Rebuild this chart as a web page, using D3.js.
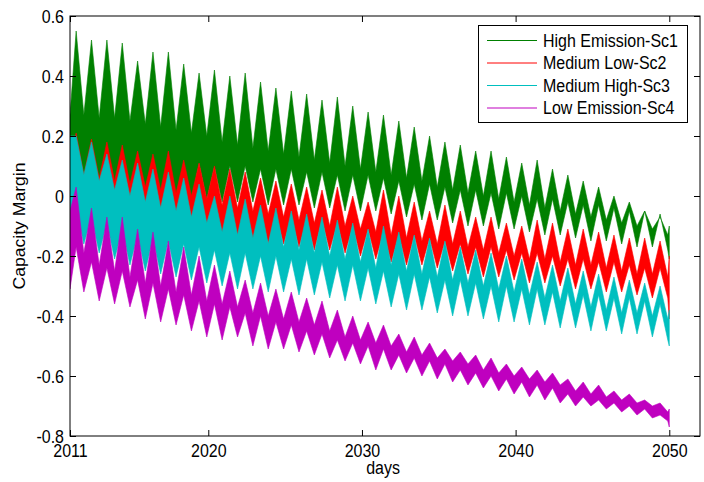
<!DOCTYPE html>
<html>
<head>
<meta charset="utf-8">
<style>
body { margin:0; background:#ffffff; }
svg text { font-family: "Liberation Sans", Arial, sans-serif; fill:#000; }
</style>
</head>
<body>
<div id="chart"></div>
<script src="https://d3js.org/d3.v7.min.js"></script>
<script>

// one seasonal cycle per year, data runs 1 Jan 2011 -> 1 Jan 2050
var years = [2011,2012,2013,2014,2015,2016,2017,2018,2019,2020,
             2021,2022,2023,2024,2025,2026,2027,2028,2029,2030,
             2031,2032,2033,2034,2035,2036,2037,2038,2039,2040,
             2041,2042,2043,2044,2045,2046,2047,2048,2049];
var peakDay = 146;    // day of year of the seasonal maximum
var troughDay = 329;  // day of year of the seasonal minimum
var startYear = 2011, endYear = 2050;

var seriesNames = ["High Emission-Sc1","Medium Low-Sc2","Medium High-Sc3","Low Emission-Sc4"];

// top / bottom of the daily band, read at each peak and each trough
var greenHiPk = [0.55,0.52,0.52,0.51,0.45,0.48,0.48,0.44,0.41,0.42, 0.40,0.41,0.38,0.36,0.35,0.34,0.32,0.33,0.30,0.28, 0.27,0.25,0.23,0.20,0.18,0.17,0.15,0.15,0.13,0.11, 0.12,0.09,0.07,0.05,0.03,0.00,-0.02,-0.05,-0.07];
var greenHiTr = [0.27,0.26,0.26,0.25,0.24,0.23,0.22,0.21,0.20,0.18, 0.17,0.16,0.15,0.14,0.13,0.12,0.11,0.10,0.09,0.08, 0.07,0.06,0.05,0.03,0.02,0.01,0.00,-0.01,-0.02,-0.03, -0.04,-0.05,-0.06,-0.07,-0.08,-0.09,-0.10,-0.11,-0.13];
var greenLoPk = [0.15,0.14,0.13,0.12,0.12,0.12,0.11,0.11,0.11,0.10, 0.10,0.10,0.09,0.09,0.09,0.08,0.08,0.07,0.07,0.07, 0.06,0.05,0.04,0.04,0.03,0.02,0.02,0.01,0.01,0.00, -0.01,-0.01,-0.02,-0.03,-0.03,-0.04,-0.05,-0.05,-0.06];
var greenLoTr = [0.03,0.02,0.01,0.00,0.00,0.00,-0.01,-0.01,-0.01,-0.02, -0.02,-0.02,-0.03,-0.03,-0.03,-0.04,-0.04,-0.05,-0.05,-0.05, -0.06,-0.07,-0.08,-0.08,-0.09,-0.10,-0.10,-0.11,-0.11,-0.12, -0.13,-0.13,-0.14,-0.15,-0.15,-0.16,-0.17,-0.17,-0.18];

var redHiPk = [0.21,0.19,0.18,0.17,0.15,0.14,0.15,0.12,0.11,0.10, 0.09,0.08,0.06,0.05,0.04,0.03,0.02,0.03,0.00,-0.02, 0.02,0.00,-0.02,-0.05,-0.03,-0.05,-0.07,-0.07,-0.09,-0.10, -0.08,-0.09,-0.11,-0.11,-0.12,-0.13,-0.14,-0.14,-0.15];
var redHiTr = [0.07,0.06,0.05,0.04,0.03,0.02,0.01,0.00,-0.01,-0.03, -0.04,-0.05,-0.06,-0.07,-0.08,-0.09,-0.10,-0.10,-0.11,-0.12, -0.13,-0.14,-0.15,-0.16,-0.16,-0.17,-0.18,-0.19,-0.20,-0.21, -0.21,-0.22,-0.23,-0.23,-0.24,-0.25,-0.26,-0.26,-0.27];
var redLoPk = [0.04,0.03,0.02,0.01,0.00,0.00,-0.01,-0.02,-0.02,-0.03, -0.04,-0.05,-0.06,-0.06,-0.07,-0.08,-0.08,-0.09,-0.10,-0.11, -0.12,-0.13,-0.13,-0.14,-0.15,-0.16,-0.17,-0.17,-0.18,-0.19, -0.19,-0.20,-0.21,-0.21,-0.22,-0.22,-0.23,-0.24,-0.24];
var redLoTr = [-0.06,-0.07,-0.08,-0.09,-0.10,-0.10,-0.11,-0.12,-0.12,-0.13, -0.14,-0.15,-0.16,-0.16,-0.17,-0.18,-0.18,-0.19,-0.20,-0.21, -0.22,-0.23,-0.23,-0.24,-0.25,-0.26,-0.27,-0.27,-0.28,-0.29, -0.29,-0.30,-0.31,-0.31,-0.32,-0.32,-0.33,-0.34,-0.34];

var cyanHiPk = [0.20,0.18,0.14,0.12,0.11,0.09,0.08,0.06,0.04,0.00, 0.00,-0.01,-0.03,-0.04,-0.05,-0.06,-0.07,-0.08,-0.09,-0.11, -0.10,-0.12,-0.13,-0.14,-0.15,-0.17,-0.18,-0.19,-0.20,-0.21, -0.22,-0.23,-0.24,-0.25,-0.26,-0.27,-0.28,-0.29,-0.30];
var cyanHiTr = [0.07,0.05,0.02,0.00,-0.02,-0.04,-0.05,-0.07,-0.09,-0.12, -0.13,-0.14,-0.16,-0.17,-0.18,-0.19,-0.20,-0.21,-0.22,-0.24, -0.23,-0.25,-0.26,-0.27,-0.28,-0.29,-0.30,-0.31,-0.32,-0.33, -0.34,-0.35,-0.36,-0.37,-0.38,-0.39,-0.39,-0.40,-0.41];
var cyanLoPk = [-0.04,-0.07,-0.09,-0.11,-0.13,-0.14,-0.15,-0.16,-0.17,-0.18, -0.19,-0.19,-0.20,-0.20,-0.21,-0.21,-0.22,-0.23,-0.23,-0.24, -0.25,-0.26,-0.26,-0.27,-0.28,-0.28,-0.29,-0.30,-0.30,-0.31, -0.31,-0.32,-0.32,-0.33,-0.33,-0.34,-0.34,-0.35,-0.36];
var cyanLoTr = [-0.16,-0.19,-0.21,-0.23,-0.25,-0.26,-0.27,-0.28,-0.29,-0.30, -0.31,-0.31,-0.32,-0.32,-0.33,-0.33,-0.34,-0.35,-0.35,-0.36, -0.37,-0.38,-0.38,-0.39,-0.40,-0.40,-0.41,-0.42,-0.42,-0.43, -0.43,-0.44,-0.44,-0.45,-0.45,-0.46,-0.46,-0.47,-0.48];

var magHiPk = [0.03,-0.04,-0.07,-0.07,-0.11,-0.12,-0.15,-0.17,-0.20,-0.23, -0.25,-0.28,-0.29,-0.31,-0.32,-0.34,-0.35,-0.38,-0.40,-0.42, -0.43,-0.46,-0.47,-0.49,-0.51,-0.52,-0.53,-0.54,-0.56,-0.57, -0.58,-0.59,-0.61,-0.62,-0.63,-0.65,-0.66,-0.68,-0.69];
var magHiTr = [-0.19,-0.23,-0.25,-0.27,-0.29,-0.30,-0.32,-0.33,-0.35,-0.36, -0.37,-0.39,-0.40,-0.41,-0.42,-0.43,-0.45,-0.47,-0.48,-0.49, -0.50,-0.52,-0.53,-0.54,-0.55,-0.56,-0.58,-0.59,-0.60,-0.61, -0.62,-0.63,-0.65,-0.66,-0.67,-0.68,-0.69,-0.70,-0.72];
var magLoPk = [-0.17,-0.22,-0.24,-0.25,-0.28,-0.29,-0.31,-0.33,-0.35,-0.36, -0.37,-0.39,-0.40,-0.42,-0.43,-0.45,-0.46,-0.48,-0.49,-0.50, -0.51,-0.53,-0.54,-0.55,-0.56,-0.58,-0.59,-0.60,-0.61,-0.62, -0.63,-0.64,-0.66,-0.67,-0.68,-0.69,-0.70,-0.71,-0.73];
var magLoTr = [-0.32,-0.35,-0.36,-0.37,-0.41,-0.42,-0.43,-0.45,-0.47,-0.48, -0.47,-0.50,-0.51,-0.51,-0.52,-0.53,-0.54,-0.55,-0.56,-0.58, -0.58,-0.59,-0.60,-0.61,-0.62,-0.63,-0.64,-0.65,-0.66,-0.67, -0.68,-0.69,-0.70,-0.70,-0.71,-0.72,-0.73,-0.74,-0.75];

// band at the first and last day (Sc1..Sc4)
var startHi = [0.27, 0.12, 0.20, -0.05];
var startLo = [0.05, -0.05, -0.15, -0.31];
var endHi = [-0.10, -0.20, -0.38, -0.71];
var endLo = [-0.21, -0.41, -0.50, -0.77];

var xTickYears = [2011, 2020, 2030, 2040, 2050];
var yTicks = [-0.8, -0.6, -0.4, -0.2, 0, 0.2, 0.4, 0.6];
var yTickLabels = ["-0.8", "-0.6", "-0.4", "-0.2", "0", "0.2", "0.4", "0.6"];

var colors = ["#008000", "#ff0000", "#00bfbf", "#bf00bf"];

var W = 704, H = 482;
var margin = {left: 70, top: 16, right: 4, bottom: 46};
var plotW = W - margin.left - margin.right;
var plotH = H - margin.top - margin.bottom;
var fontSize = 16;
var stretch = 1.1;   // text in the picture is a little tall

var svg = d3.select("#chart").append("svg")
    .attr("width", W)
    .attr("height", H);

var x = d3.scaleTime()
    .domain([new Date(2011, 0, 1), new Date(2052, 0, 1)])
    .range([0, plotW]);
var y = d3.scaleLinear()
    .domain([-0.8, 0.6])
    .range([plotH, 0]);

var g = svg.append("g")
    .attr("transform", "translate(" + margin.left + "," + margin.top + ")");

g.append("clipPath").attr("id", "clip")
  .append("rect").attr("width", plotW).attr("height", plotH);

// build the band outline for one scenario
function bandPoints(s, hiPk, hiTr, loPk, loTr) {
  var pts = [{d: new Date(startYear, 0, 1), hi: startHi[s], lo: startLo[s]}];
  years.forEach(function(yr, i) {
    var jan = new Date(yr, 0, 1);
    pts.push({d: d3.timeDay.offset(jan, peakDay), hi: hiPk[i], lo: loPk[i]});
    pts.push({d: d3.timeDay.offset(jan, troughDay), hi: hiTr[i], lo: loTr[i]});
  });
  pts.push({d: new Date(endYear, 0, 1), hi: endHi[s], lo: endLo[s]});
  return pts;
}

var bands = [
  bandPoints(0, greenHiPk, greenHiTr, greenLoPk, greenLoTr),
  bandPoints(1, redHiPk, redHiTr, redLoPk, redLoTr),
  bandPoints(2, cyanHiPk, cyanHiTr, cyanLoPk, cyanLoTr),
  bandPoints(3, magHiPk, magHiTr, magLoPk, magLoTr)
];

var area = d3.area()
    .x(function(d) { return x(d.d); })
    .y0(function(d) { return y(d.lo); })
    .y1(function(d) { return y(d.hi); });

// later scenarios are drawn over earlier ones, like the original plot
g.append("g").attr("clip-path", "url(#clip)")
  .selectAll("path")
  .data(bands)
  .join("path")
    .attr("d", area)
    .style("fill", function(d, i) { return colors[i]; })
    .style("stroke", function(d, i) { return colors[i]; })
    .style("stroke-width", 0.6);

// axes, ticks pointing inwards on all four sides
var xTickDates = xTickYears.map(function(yr) { return new Date(yr, 0, 1); });

var xAxis = g.append("g")
    .attr("transform", "translate(0," + plotH + ")")
    .call(d3.axisBottom(x).tickValues(xTickDates).tickFormat(d3.timeFormat("%Y"))
          .tickSizeInner(-6).tickSizeOuter(0));
g.append("g")
    .call(d3.axisTop(x).tickValues(xTickDates).tickFormat("")
          .tickSizeInner(-6).tickSizeOuter(0));
var yAxis = g.append("g")
    .call(d3.axisLeft(y).tickValues(yTicks)
          .tickFormat(function(d, i) { return yTickLabels[i]; })
          .tickSizeInner(-6).tickSizeOuter(0));
g.append("g")
    .attr("transform", "translate(" + plotW + ",0)")
    .call(d3.axisRight(y).tickValues(yTicks).tickFormat("")
          .tickSizeInner(-6).tickSizeOuter(0));

g.selectAll(".domain").remove();
g.selectAll(".tick line").style("stroke", "#000");

xAxis.selectAll("text")
    .attr("y", 21 / stretch)
    .attr("dy", null)
    .attr("transform", "scale(1," + stretch + ")")
    .style("font-size", fontSize + "px")
    .style("font-family", "'Liberation Sans', Arial, sans-serif");

yAxis.selectAll("text")
    .attr("x", -6)
    .attr("y", 6.3 / stretch)
    .attr("dy", null)
    .attr("transform", "scale(1," + stretch + ")")
    .style("text-anchor", "end")
    .style("font-size", fontSize + "px")
    .style("font-family", "'Liberation Sans', Arial, sans-serif");

// the box
g.append("rect")
    .attr("width", plotW)
    .attr("height", plotH)
    .style("fill", "none")
    .style("stroke", "#000")
    .style("stroke-width", 1);

// axis titles
svg.append("text")
    .text("days")
    .style("font-size", fontSize + "px")
    .style("text-anchor", "middle")
    .attr("transform", "translate(" + (margin.left + plotW / 2 - 2) + ",474) scale(1," + stretch + ")");

svg.append("text")
    .text("Capacity Margin")
    .style("font-size", fontSize + "px")
    .style("text-anchor", "middle")
    .attr("transform", "translate(25," + (margin.top + plotH / 2) + ") scale(1," + stretch + ") rotate(-90)");

// legend
var legX = 478, legY = 25, legW = 209, legH = 97, legStep = 22.5;
var leg = svg.append("g");
leg.append("rect")
    .attr("x", legX + 0.5)
    .attr("y", legY + 0.5)
    .attr("width", legW)
    .attr("height", legH)
    .style("fill", "#fff")
    .style("stroke", "#000")
    .style("stroke-width", 1);

seriesNames.forEach(function(name, i) {
  var cy = legY + 15.5 + i * legStep;
  leg.append("line")
      .attr("x1", legX + 9).attr("x2", legX + 59)
      .attr("y1", cy).attr("y2", cy)
      .style("stroke", colors[i])
      .style("stroke-width", 1);
  leg.append("text")
      .text(name)
      .style("font-size", fontSize + "px")
      .attr("transform", "translate(" + (legX + 65) + "," + (cy + 6) + ") scale(1," + stretch + ")");
});

</script>
</body>
</html>
